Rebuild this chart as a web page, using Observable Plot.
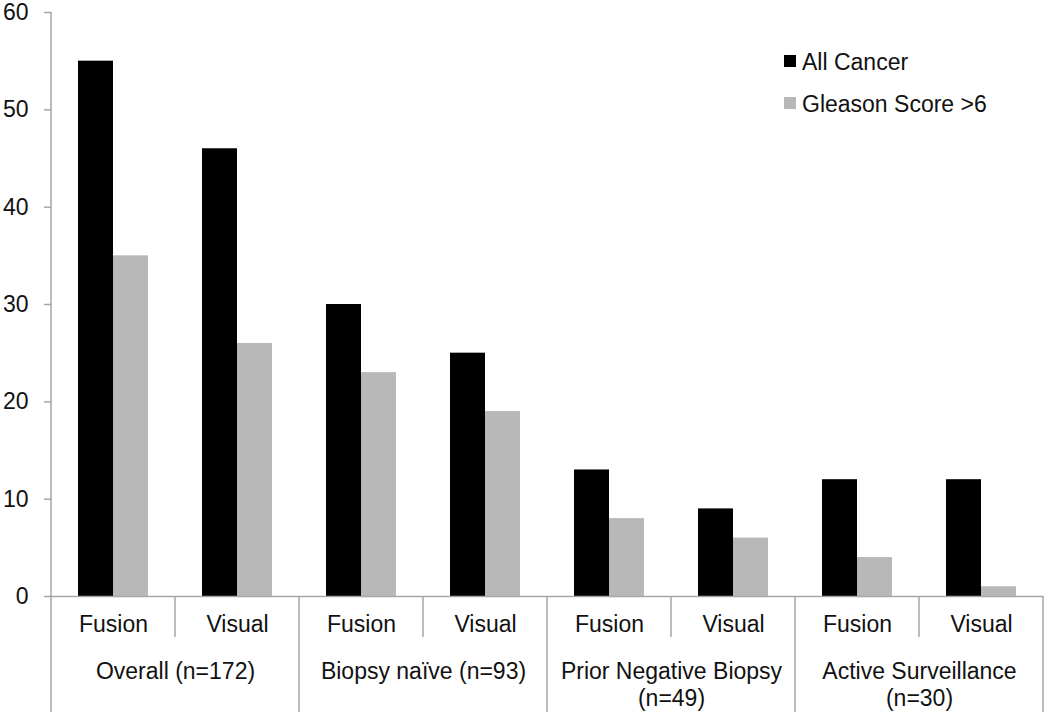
<!DOCTYPE html>
<html><head><meta charset="utf-8">
<script src="https://cdn.jsdelivr.net/npm/d3@7"></script>
<script src="https://cdn.jsdelivr.net/npm/@observablehq/plot@0.6"></script>
<style>
body{margin:0;background:#fff;font-family:"Liberation Sans",Arial,sans-serif;}
#wrap{position:relative;width:1050px;height:715px;}
#wrap svg [aria-label^="y-axis"] line, #wrap svg [aria-label^="y-axis"] path{stroke:#a6a6a6;stroke-width:1.5px;}
#legend{position:absolute;left:784px;top:50px;font-size:23px;color:#111;}
#legend .item{display:flex;align-items:center;height:24px;margin-bottom:18px;white-space:nowrap;}
#legend .sw{width:12px;height:12px;margin-right:6px;margin-top:-2px;}
</style>
</head><body>
<div id="wrap"></div>
<script>
const groups = ["Overall (n=172)", "Biopsy naïve (n=93)", "Prior Negative Biopsy\n(n=49)", "Active Surveillance\n(n=30)"];
const methods = ["Fusion", "Visual"];
const seriesNames = ["All Cancer", "Gleason Score >6"];
const allCancer = [55, 46, 30, 25, 13, 9, 12, 12];
const gleason = [35, 26, 23, 19, 8, 6, 4, 1];
const yTicks = [0, 10, 20, 30, 40, 50, 60];
const colors = ["#000000", "#b8b8b8"];

const slots = groups.flatMap((g, gi) => methods.map((m, mi) => ({key: `${gi}-${mi}`, group: g, method: m, gi, mi})));
const rows = slots.flatMap((s, i) => [
  {...s, series: seriesNames[0], value: allCancer[i]},
  {...s, series: seriesNames[1], value: gleason[i]}
]);

const W = 1050, H = 715, ML = 50, MR = 7, MT = 12, MB = 119;
const plot = Plot.plot({
  width: W, height: H, marginLeft: ML, marginRight: MR, marginTop: MT, marginBottom: MB,
  style: {fontFamily: '"Liberation Sans", Arial, sans-serif', fontSize: "23px", color: "#111", background: "#fff", overflow: "visible"},
  facet: {data: rows, x: "key"},
  fx: {domain: slots.map(d => d.key), padding: 0, axis: null, label: null},
  x: {domain: seriesNames, paddingInner: 0, paddingOuter: 0.77, axis: null, label: null},
  y: {domain: [0, 60], ticks: yTicks, tickSize: 7, tickPadding: 16, label: null},
  color: {domain: seriesNames, range: colors},
  marks: [
    Plot.barY(rows, {x: "series", y: "value", fill: "series"}),
    Plot.ruleY([0], {stroke: "#a6a6a6", strokeWidth: 1.5}),
    Plot.text(rows, {filter: d => d.series === seriesNames[0], text: "method", frameAnchor: "bottom", lineAnchor: "top", dy: 19, fill: "#111", fontSize: 23}),
    Plot.text(rows, {filter: d => d.series === seriesNames[0] && d.mi === 0, text: "group", frameAnchor: "bottom-right", textAnchor: "middle", lineAnchor: "top", dy: 64, lineHeight: 1.15, fill: "#111", fontSize: 23})
  ]
});
document.getElementById("wrap").appendChild(plot);

// separators below the baseline, placed with the plot's own scales
const svg = d3.select(plot.tagName.toLowerCase() === "svg" ? plot : plot.querySelector("svg"));
const yS = plot.scale("y");
const y0 = yS.apply(0), yTop = yS.apply(60);
let fxS = null;
try { fxS = plot.scale("fx"); } catch (e) {}
const step = fxS && fxS.bandwidth ? fxS.bandwidth : (W - ML - MR) / slots.length;
const xOf = k => fxS ? fxS.apply(k) : ML + slots.findIndex(s => s.key === k) * step;
const g = svg.append("g").attr("stroke", "#a6a6a6").attr("stroke-width", 1.5);
// y axis line
g.append("line").attr("x1", xOf(slots[0].key)).attr("x2", xOf(slots[0].key)).attr("y1", yTop).attr("y2", y0);
slots.forEach(s => {
  const x = xOf(s.key);
  g.append("line").attr("x1", x).attr("x2", x).attr("y1", y0).attr("y2", y0 + (s.mi === 0 ? 116 : 41));
});
const xr = xOf(slots[slots.length - 1].key) + step;
g.append("line").attr("x1", xr).attr("x2", xr).attr("y1", y0).attr("y2", y0 + 116);

// legend
const leg = d3.select("#wrap").append("div").attr("id", "legend");
seriesNames.forEach((n, i) => {
  const it = leg.append("div").attr("class", "item");
  it.append("div").attr("class", "sw").style("background", plot.scale("color").apply(n));
  it.append("span").text(n);
});
</script>
</body></html>
